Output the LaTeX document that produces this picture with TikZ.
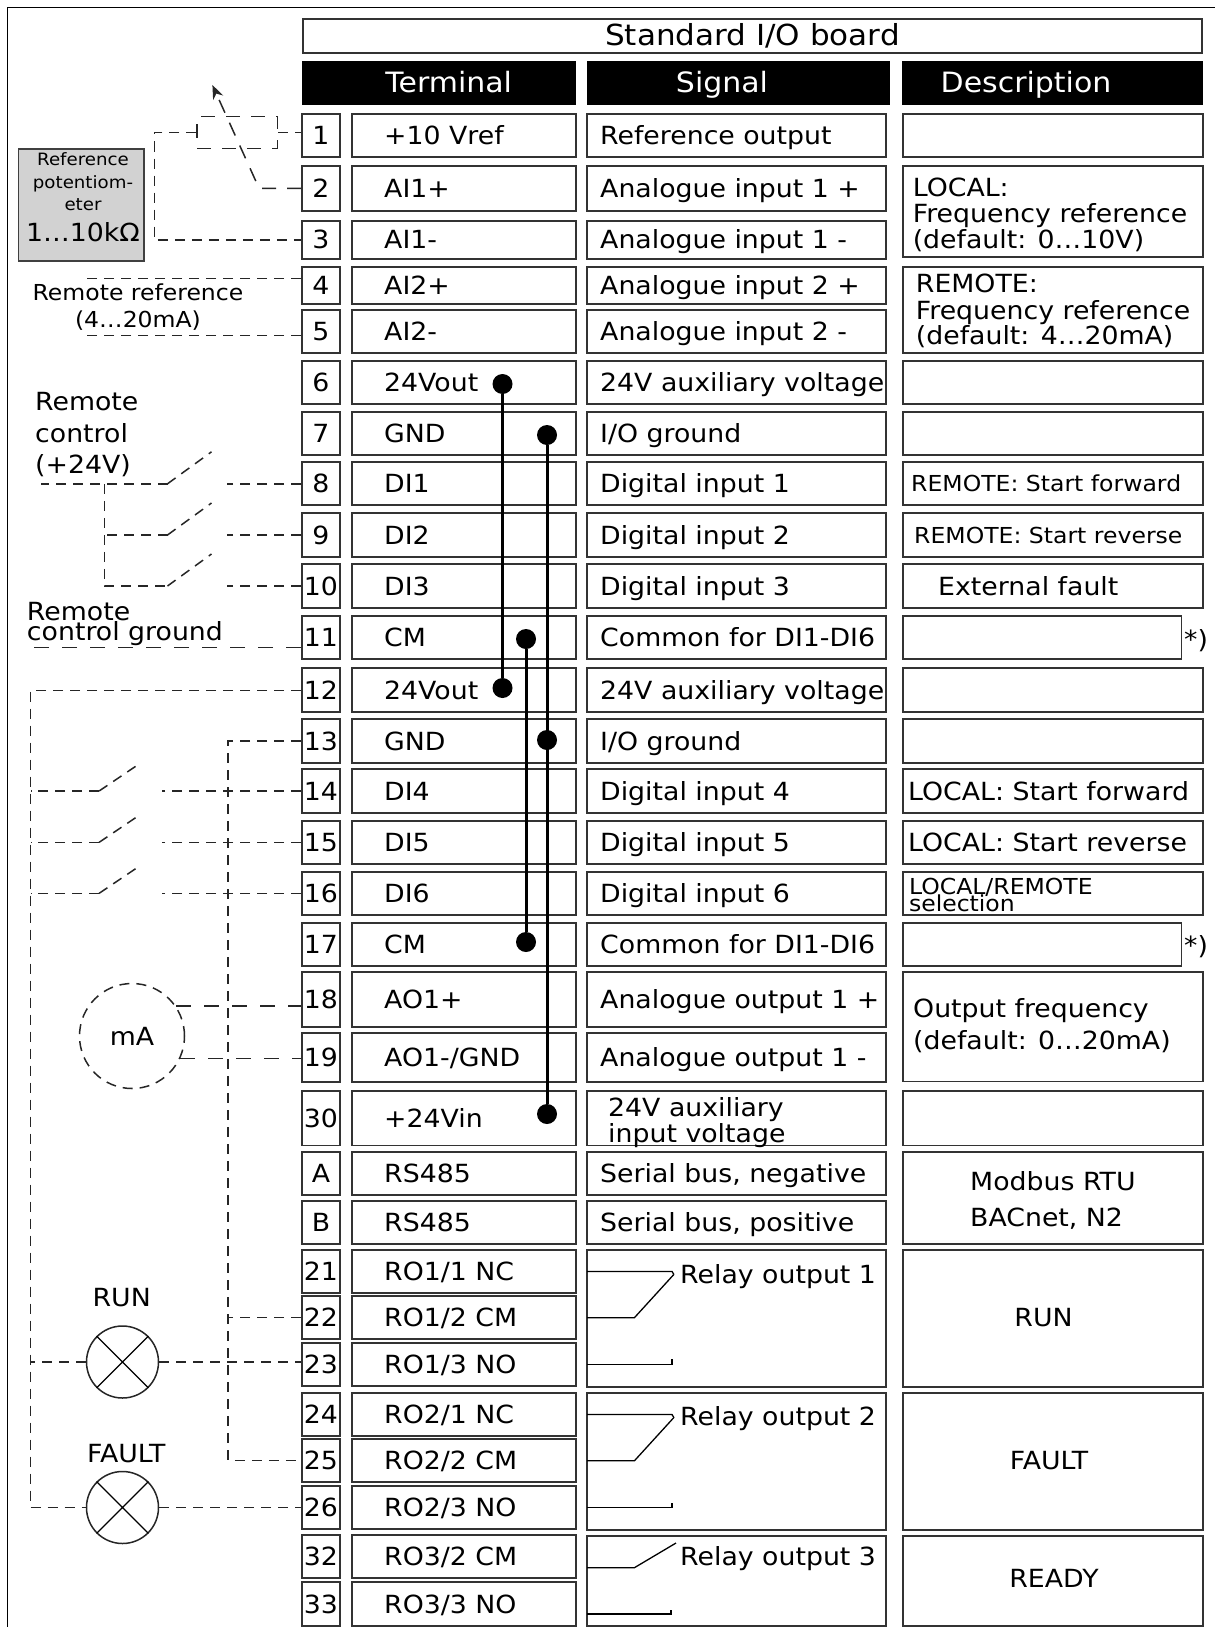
\documentclass[tikz,border=0pt]{standalone}
\usepackage{fontspec}
\setmainfont{DejaVu Sans}[FakeStretch=1.07]
\usetikzlibrary{arrows.meta}

\begin{document}
\begin{tikzpicture}[x=1pt, y=-1pt,
    terminal/.style={rectangle, draw=black!80, line width=1.8pt, minimum width=38pt,
      inner sep=0pt, font=\fontsize{25}{26}\selectfont},
    cell/.style={draw=black!80, line width=1.8pt},
    heading/.style={rectangle, fill=black, inner sep=0pt, minimum height=44.3pt},
    headtext/.style={anchor=base, inner sep=0pt, text=white, font=\fontsize{28}{28}\selectfont},
    txt/.style={anchor=base west, inner sep=0pt, font=\fontsize{25}{26}\selectfont},
    smalltxt/.style={anchor=base west, inner sep=0pt, font=\fontsize{22}{22}\selectfont},
    wiring/.style={draw=black!85, line width=1.5pt, dash pattern=on 10pt off 7pt},
    longdash/.style={draw=black!85, line width=1.5pt, dash pattern=on 15pt off 13pt},
    wiper/.style={draw=black!85, line width=1.5pt, dash pattern=on 14pt off 11pt},
    bus/.style={line width=3pt},
    junction/.style={circle, fill=black, minimum size=20pt, inner sep=0pt},
    lamp/.style={circle, draw=black!85, line width=1.5pt, minimum size=72pt, inner sep=0pt},
    meter/.style={circle, wiring, minimum size=105pt, inner sep=0pt, font=\fontsize{25}{26}\selectfont},
    contact/.style={line width=1.3pt}]

\useasboundingbox (0,0) rectangle (1215,1627);
\draw[line width=1.5pt] (7.7,1627) -- (7.7,7.3) -- (1215,7.3);

% board title and headings
\node[cell, rectangle, minimum width=899pt, minimum height=34pt, inner sep=0pt,
  font=\fontsize{29}{29}\selectfont] (board) at (752.5,36.3) {Standard I/O board};
\node[heading, minimum width=274.3pt] (hterm) at (439.2,83.2) {};
\node[heading, minimum width=302.8pt] (hsig) at (738.1,83.2) {};
\node[heading, minimum width=301pt] (hdesc) at (1052.5,83.2) {};
\node[headtext] (lterm) at (448.7,92.7) {Terminal};
\node[headtext] (lsig) at (722,92.7) {Signal};
\node[headtext] (ldesc) at (1026,92.7) {Description};

% terminal rows
\foreach \n/\ya/\yb/\tn/\sg in {
  1/113.7/156.7/{+10 Vref}/{Reference output},
  2/166/210.7/{AI1+}/{Analogue input 1 +},
  3/221/258.7/{AI1-}/{Analogue input 1 -},
  4/266.7/304.3/{AI2+}/{Analogue input 2 +},
  5/310/352.7/{AI2-}/{Analogue input 2 -},
  6/361/404/{24Vout}/{24V auxiliary voltage},
  7/412/455.3/{GND}/{I/O ground},
  8/462.3/505.3/{DI1}/{Digital input 1},
  9/513.3/556.7/{DI2}/{Digital input 2},
  10/564.3/607.7/{DI3}/{Digital input 3},
  11/616/659.3/{CM}/{Common for DI1-DI6},
  12/668.3/712.3/{24Vout}/{24V auxiliary voltage},
  13/719.3/762.7/{GND}/{I/O ground},
  14/769.3/812.7/{DI4}/{Digital input 4},
  15/820.7/864/{DI5}/{Digital input 5},
  16/871.7/915/{DI6}/{Digital input 6},
  17/922.7/966/{CM}/{Common for DI1-DI6},
  18/972.3/1026.7/{AO1+}/{Analogue output 1 +},
  19/1033.3/1082.3/{AO1-/GND}/{Analogue output 1 -},
  30/1090.7/1145.4/{+24Vin}/{},
  A/1152/1195/{RS485}/{Serial bus, negative},
  B/1200.8/1243.8/{RS485}/{Serial bus, positive}}{
  \node[terminal, minimum height={(\yb-\ya)*1pt}] (t\n) at (321,{(\ya+\yb)/2}) {\n};
  \draw[cell] (352,\ya) rectangle (576.3,\yb);
  \draw[cell] (587,\ya) rectangle (886.3,\yb);
  \node[txt] (n\n) at (384,{(\ya+\yb)/2+9}) {\tn};
  \node[txt] (s\n) at (600,{(\ya+\yb)/2+9}) {\sg};
}
\foreach \n/\ya/\yb/\tn in {
  21/1250/1293/{RO1/1 NC}, 22/1296/1339/{RO1/2 CM}, 23/1343/1386/{RO1/3 NO},
  24/1393.3/1436/{RO2/1 NC}, 25/1438.7/1482/{RO2/2 CM}, 26/1485.7/1529/{RO2/3 NO},
  32/1535/1578/{RO3/2 CM}, 33/1582/1626/{RO3/3 NO}}{
  \node[terminal, minimum height={(\yb-\ya)*1pt}] (t\n) at (321,{(\ya+\yb)/2}) {\n};
  \draw[cell] (352,\ya) rectangle (576.3,\yb);
  \node[txt] (n\n) at (384,{(\ya+\yb)/2+9}) {\tn};
}
\node[txt] (s30a) at (608,1116.8) {24V auxiliary};
\node[txt] (s30b) at (608,1142.7) {input voltage};

% relay boxes
\foreach \ya/\yb in {1250.2/1387.3, 1393.3/1530, 1536/1626}
  \draw[cell] (587,\ya) rectangle (886.3,\yb);
\foreach \y in {1250.2, 1393.3}{
  \draw[contact] (587,\y+21.2) -- (672,\y+21.2) -- (674,\y+24.5);
  \draw[contact] (587,\y+67.5) -- (634.4,\y+67.5) -- (673.6,\y+24.5);
  \draw[contact] (587,\y+114.2) -- (672,\y+114.2) -- (672,\y+109.2);
}
\draw[contact] (587,1567.7) -- (634.4,1567.7) -- (676,1543);
\draw[contact] (587,1614) -- (671,1614) -- (671,1610);
\node[txt] (ro1) at (680,1283) {Relay output 1};
\node[txt] (ro2) at (680,1425.2) {Relay output 2};
\node[txt] (ro3) at (680,1565.4) {Relay output 3};

% description column
\foreach \ya/\yb in {113.7/156.7, 166/256.7, 266.7/352.7, 361/404, 412/455.3,
    462.3/505.3, 513.3/556.7, 564.3/607.7, 668.3/712.3, 719.3/762.7, 769.3/812.7,
    820.7/864, 871.7/915, 972.3/1081.4, 1090.7/1145.4, 1152/1243.8,
    1250.2/1387.3, 1393.3/1530, 1536/1626}
  \draw[cell] (903,\ya) rectangle (1203,\yb);
\draw[cell] (903,616) rectangle (1181.5,659.3);
\draw[cell] (903,922.7) rectangle (1181.5,966);
\node[txt] (star11) at (1184,648.3) {*)};
\node[txt] (star17) at (1184,954) {*)};
\node[txt] (d2a) at (912.6,196) {LOCAL:};
\node[txt] (d2b) at (912.6,222.7) {Frequency reference};
\node[txt] (d2c) at (912.6,248.3) {(default: 0…10V)};
\node[txt] (d4a) at (915.7,292.7) {REMOTE:};
\node[txt] (d4b) at (915.7,319.3) {Frequency reference};
\node[txt] (d4c) at (915.7,344) {(default: 4…20mA)};
\node[smalltxt] (d8) at (911,491.8) {REMOTE: Start forward};
\node[smalltxt] (d9) at (914,543) {REMOTE: Start reverse};
\node[txt] (d10) at (938,595) {External fault};
\node[txt] (d14) at (908,800) {LOCAL: Start forward};
\node[txt] (d15) at (908,851.3) {LOCAL: Start reverse};
\node[smalltxt] (d16a) at (908.8,894.5) {LOCAL/REMOTE};
\node[smalltxt] (d16b) at (908.8,911.6) {selection};
\node[txt] (d18a) at (913,1017.7) {Output frequency};
\node[txt] (d18b) at (913,1049.8) {(default: 0…20mA)};
\node[txt] (dab1) at (970,1190) {Modbus RTU};
\node[txt] (dab2) at (970,1226) {BACnet, N2};
\node[font=\fontsize{25}{26}\selectfont, inner sep=0pt] (drun) at (1043.5,1317.5) {RUN};
\node[font=\fontsize{25}{26}\selectfont, inner sep=0pt] (dfault) at (1049,1460.3) {FAULT};
\node[font=\fontsize{25}{26}\selectfont, inner sep=0pt] (dready) at (1054,1578) {READY};

% jumper wires
\node[junction] (j6) at (502.5,384) {};
\node[junction] (j12) at (502.5,688) {};
\node[junction] (j7) at (547,435) {};
\node[junction] (j13) at (547,740) {};
\node[junction] (j30) at (547,1114) {};
\node[junction] (j11) at (526,639) {};
\node[junction] (j17) at (526,942) {};
\draw[bus] (j6) -- (j12);
\draw[bus] (j7) -- (j30);
\draw[bus] (j11) -- (j17);

% reference potentiometer
\node[rectangle, draw=black!75, line width=1.5pt, fill=gray!35, minimum width=125.5pt,
  minimum height=111.7pt] (pot) at (81.2,204.9) {};
\node[anchor=base, inner sep=0pt, font=\fontsize{17}{17}\selectfont] (pot1) at (83,165.7) {Reference};
\node[anchor=base, inner sep=0pt, font=\fontsize{17}{17}\selectfont] (pot2) at (83,188.3) {potentiom-};
\node[anchor=base, inner sep=0pt, font=\fontsize{17}{17}\selectfont] (pot3) at (83,210.7) {eter};
\node[anchor=base, inner sep=0pt, font=\fontsize{25}{26}\selectfont] (pot4) at (83,241.7) {1…10kΩ};
\node[rectangle, wiper, minimum width=80.5pt, minimum height=31.6pt] (res) at (237.3,132.5) {};
\draw[wiring] (res.east) -- (res.east -| t1.west);
\draw[wiring] (res.west) -- ++(-42,0) |- (t3.west);
\draw[wiper, -{Stealth[length=14pt, width=11pt]}] (t2.west) -- ++(-42,0) -- (212.4,85);

% remote reference
\node[anchor=base, inner sep=0pt, font=\fontsize{22}{22}\selectfont] (rr1) at (138,300) {Remote reference};
\node[anchor=base, inner sep=0pt, font=\fontsize{22}{22}\selectfont] (rr2) at (138,327) {(4…20mA)};
\draw[wiring] ([yshift=7pt]t4.west) -- ++(-217,0);
\draw[wiring] ([yshift=-4pt]t5.west) -- ++(-217,0);

% remote control
\node[txt] (rc1) at (35,410.7) {Remote};
\node[txt] (rc2) at (35,442.3) {control};
\node[txt] (rc3) at (35,473.3) {(+24V)};
\foreach \r in {8,9,10}{
  \draw[wiring] (t\r.west) -- ++(-74.3,0);
  \draw[wiring] (t\r.west) ++(-133.6,0) coordinate (c\r) -- ++(44,-32);
}
\draw[wiring] (c8) -- ++(-126.4,0);
\draw[wiring] (c8) ++(-63.2,0) |- (c10);
\draw[wiring] (c9) -- ++(-63.2,0);
\node[txt] (rg1) at (26.8,620) {Remote};
\node[txt] (rg2) at (26.8,640) {control ground};
\draw[longdash] ([yshift=-9.6pt]t11.west) -- ++(-271.4,0);

% local control
\node[lamp] (run) at (122.5,1362) {};
\node[lamp] (fault) at (122.5,1507.5) {};
\draw[line width=1.3pt] (run.north west) -- (run.south east) (run.north east) -- (run.south west);
\draw[line width=1.3pt] (fault.north west) -- (fault.south east) (fault.north east) -- (fault.south west);
\node[anchor=base, inner sep=0pt, font=\fontsize{25}{26}\selectfont] (lrun) at (121.7,1306.7) {RUN};
\node[anchor=base, inner sep=0pt, font=\fontsize{25}{26}\selectfont] (lfault) at (126.3,1462.9) {FAULT};
\draw[wiring] (t12.west) -- ++(-270.6,0) coordinate (k12) |- (fault.west);
\foreach \r in {14,15,16}{
  \draw[wiring] (t\r.west) -- ++(-139.4,0);
  \draw[wiring] (t\r.west) ++(-202,0) coordinate (c\r) -- ++(39.4,-26.6);
  \draw[wiring] (c\r) -- ++(-68.6,0);
}
\draw[wiring] (t13.west) -- ++(-73,0) coordinate (k13) |- (t25.west);
\draw[wiring] (t22.west) -- (t22.west -| k13);
\draw[wiring] (run.east) -- (run.east -| t23.west);
\draw[wiring] (run.west) -- (run.west -| k12);
\draw[wiring] (fault.east) -- (fault.east -| t26.west);
\node[meter] (ma) at (132,1036) {mA};
\draw[longdash] (ma.34) -- (ma.34 -| t18.west);
\draw[longdash] (ma.-25) -- (ma.-25 -| t19.west);
\end{tikzpicture}
\end{document}
